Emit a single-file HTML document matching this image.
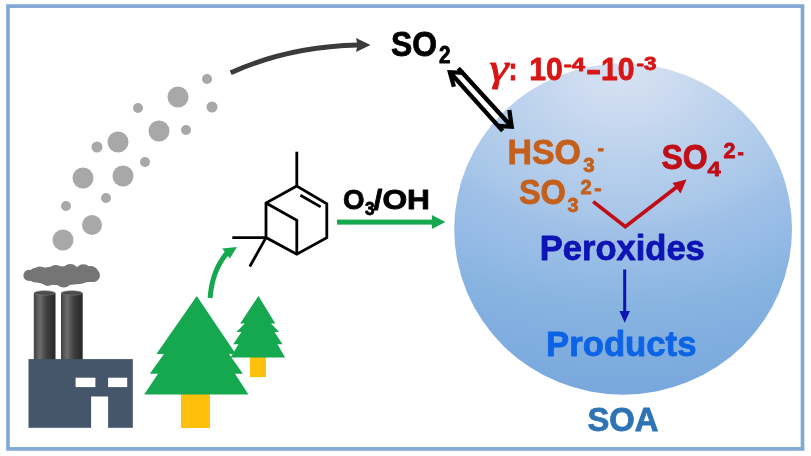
<!DOCTYPE html>
<html><head><meta charset="utf-8">
<style>
html,body{margin:0;padding:0;background:#fff;}
body{width:811px;height:456px;overflow:hidden;}
svg{display:block;}
text{font-family:"Liberation Sans",sans-serif;font-weight:bold;stroke-width:0.8px;stroke-linejoin:round;}
</style></head>
<body>
<svg width="811" height="456" viewBox="0 0 811 456">
<defs>
  <radialGradient id="sph" gradientUnits="userSpaceOnUse" cx="623" cy="70" r="330" gradientTransform="translate(623 70) scale(1.35 1) translate(-623 -70)">
    <stop offset="0" stop-color="#d7e3f4"/>
    <stop offset="0.115" stop-color="#cddbf0"/>
    <stop offset="0.233" stop-color="#bed3ed"/>
    <stop offset="0.433" stop-color="#a9c7e9"/>
    <stop offset="0.497" stop-color="#9fc0e7"/>
    <stop offset="0.606" stop-color="#95bbe5"/>
    <stop offset="0.727" stop-color="#87b3e1"/>
    <stop offset="0.97" stop-color="#79a8dc"/>
  </radialGradient>
  <linearGradient id="chim" x1="0" x2="1" y1="0" y2="0">
    <stop offset="0" stop-color="#404040"/>
    <stop offset="0.28" stop-color="#6e6e6e"/>
    <stop offset="0.6" stop-color="#3e3e3e"/>
    <stop offset="1" stop-color="#262626"/>
  </linearGradient>
  <filter id="soft" x="-5%" y="-5%" width="110%" height="110%"><feGaussianBlur stdDeviation="0.6"/></filter>
</defs>
<rect width="811" height="456" fill="#fefefe"/>
<g filter="url(#soft)">
<!-- border -->
<rect x="8" y="6.1" width="794.5" height="442.8" fill="#ffffff" stroke="#84a8d4" stroke-width="3.7"/>

<!-- sphere -->
<ellipse cx="623.1" cy="229" rx="168.9" ry="165.7" fill="url(#sph)"/>

<!-- smoke dots -->
<g fill="#a8a8a8">
<circle cx="63" cy="240" r="10.5"/><circle cx="92" cy="225" r="10"/>
<circle cx="66" cy="206" r="5"/><circle cx="106" cy="198" r="5"/>
<circle cx="83" cy="178" r="10.5"/><circle cx="123" cy="176" r="10.5"/>
<circle cx="145" cy="162" r="5"/><circle cx="97" cy="147" r="5.5"/>
<circle cx="118" cy="142" r="10.5"/><circle cx="159" cy="131" r="10.5"/>
<circle cx="186" cy="130" r="5"/><circle cx="138" cy="108" r="5"/>
<circle cx="178" cy="97" r="10.5"/><circle cx="212" cy="107" r="5.5"/>
<circle cx="207" cy="79" r="5"/>
</g>

<!-- black curved arrow -->
<path d="M230.7 72.7 Q289 46.5 358 45" fill="none" stroke="#3a3a3a" stroke-width="4.9"/>
<path d="M370.5 45 L356 38 L357.5 45 L356 52 Z" fill="#3a3a3a"/>

<!-- factory -->
<rect x="33.8" y="293" width="21.7" height="67" fill="url(#chim)"/>
<rect x="61" y="293" width="21.7" height="67" fill="url(#chim)"/>
<ellipse cx="44.6" cy="293" rx="10.6" ry="2.2" fill="#4c4c4c" stroke="#7a7a7a" stroke-width="0.6"/>
<ellipse cx="71.8" cy="293" rx="10.6" ry="2.2" fill="#4c4c4c" stroke="#7a7a7a" stroke-width="0.6"/>
<rect x="28.5" y="359.1" width="104.3" height="68.7" fill="#44546a"/>
<rect x="75.6" y="377.7" width="19.8" height="9.4" fill="#fff"/>
<rect x="108.1" y="377.7" width="19.1" height="9.4" fill="#fff"/>
<rect x="91.1" y="396.5" width="17" height="32" fill="#fff"/>
<!-- smoke cloud -->
<g fill="#747474">
<ellipse cx="61.5" cy="275.8" rx="34" ry="9.5"/>
<circle cx="40" cy="274.6" r="8"/><circle cx="55.8" cy="272.9" r="8"/><circle cx="70.3" cy="272" r="8"/><circle cx="83.4" cy="272.2" r="8"/><circle cx="92.2" cy="275" r="7"/>
<circle cx="90.5" cy="274" r="8"/><circle cx="80.8" cy="275.7" r="8"/><circle cx="63.7" cy="279.6" r="8"/><circle cx="47.9" cy="277.9" r="8"/><circle cx="35.5" cy="275.3" r="7.3"/>
<circle cx="29" cy="275.4" r="5.6"/><circle cx="93.5" cy="275.4" r="6.4"/>
</g>

<!-- trees -->
<rect x="250" y="355" width="16" height="22.1" fill="#fdc10f"/>
<path d="M258.4 296 L275.3 323.4 L271 323.4 L279.2 332.1 L274.5 332.1 L282.5 344.2 L277.5 344.2 L285.1 357.4 L230.5 357.4 L238.5 344.2 L233.2 344.2 L241.5 332.1 L236.4 332.1 L244.8 323.4 L240.2 323.4 Z" fill="#14a850"/>
<rect x="181" y="392" width="29" height="36" fill="#fdc10f"/>
<path d="M196.8 295.9 L235.8 354 L229 354 L242.9 373.8 L235 373.8 L248.5 394.5 L144.2 394.5 L158 373.8 L149.8 373.8 L164 354 L156.4 354 Z" fill="#14a850"/>

<!-- green curved arrow -->
<path d="M210.1 298 Q212 270 227.5 252.5" fill="none" stroke="#14a850" stroke-width="5"/>
<path d="M236.9 247.1 L222.2 248.6 L229.9 258.5 Z" fill="#14a850"/>

<!-- molecule -->
<g fill="none" stroke="#000" stroke-width="2.8" stroke-linejoin="miter" stroke-linecap="butt">
<path d="M296.8 186 L266 203 L266 237.6 L296.8 254.2 L326.8 237.6 L326.8 203.9 Z"/>
<path d="M266 203 L296.8 220.4 L296.8 254.2"/>
<path d="M296.8 186 L296.8 151.7"/>
<path d="M300.4 195.3 L320.7 206.9"/>
<path d="M266 237.6 L232.3 237.6"/>
<path d="M266 237.6 L249.8 266.5"/>
</g>

<!-- green arrow -->
<rect x="337" y="219.6" width="96" height="5" fill="#14a850"/>
<path d="M445.4 222.1 L431.9 215.1 L431.9 229.1 Z" fill="#14a850"/>

<!-- O3/OH -->
<text x="343" y="209.2" font-size="27" fill="#000" stroke="#000" textLength="21.5" lengthAdjust="spacingAndGlyphs">O</text>
<text x="365" y="215.3" font-size="19" fill="#000" stroke="#000" textLength="9.6" lengthAdjust="spacingAndGlyphs">3</text>
<text x="373.6" y="209.2" font-size="27" fill="#000" stroke="#000" textLength="56.4" lengthAdjust="spacingAndGlyphs">/OH</text>

<!-- SO2 -->
<text x="391" y="56" font-size="35" fill="#000" stroke="#000" textLength="46" lengthAdjust="spacingAndGlyphs">SO</text>
<text x="439" y="62.8" font-size="23.5" fill="#000" stroke="#000" textLength="11.5" lengthAdjust="spacingAndGlyphs">2</text>

<!-- double arrow -->
<g fill="none" stroke="#000" stroke-width="4.3" stroke-linecap="butt" stroke-linejoin="miter">
<path d="M458.3 68.3 L511.7 126.7"/>
<path d="M509.3 110 L511.7 126.7 L497.3 126"/>
<path d="M449.9 72.2 L502.6 130.9"/>
<path d="M453.9 86.8 L449.9 72.2 L463.9 72.8"/>
</g>

<!-- gamma text -->
<g fill="#d81414" stroke="#d81414">
<text x="489.5" y="81" font-size="38" textLength="19" lengthAdjust="spacingAndGlyphs" style="font-family:'Liberation Serif',serif;font-style:italic;font-weight:normal;stroke-width:1px">γ</text>
<text x="508.5" y="80" font-size="32" textLength="9" lengthAdjust="spacingAndGlyphs">:</text>
<text x="529.2" y="80" font-size="32" textLength="33.5" lengthAdjust="spacingAndGlyphs">10</text>
<text x="563.8" y="70.8" font-size="18.5" textLength="21" lengthAdjust="spacingAndGlyphs">-4</text>
<text x="586" y="80" font-size="32" textLength="15.3" lengthAdjust="spacingAndGlyphs">-</text>
<text x="601" y="80" font-size="32" textLength="33.5" lengthAdjust="spacingAndGlyphs">10</text>
<text x="636.5" y="69.5" font-size="18.5" textLength="20" lengthAdjust="spacingAndGlyphs">-3</text>
</g>

<!-- HSO3- -->
<g fill="#c55f1c" stroke="#c55f1c">
<text x="507.5" y="164.2" font-size="34.5" textLength="73.5" lengthAdjust="spacingAndGlyphs">HSO</text>
<text x="583.2" y="172.4" font-size="20.5" textLength="11.4" lengthAdjust="spacingAndGlyphs">3</text>
<text x="597.6" y="155" font-size="20.5" textLength="6.5" lengthAdjust="spacingAndGlyphs">-</text>
<text x="518.9" y="204" font-size="34.5" textLength="47" lengthAdjust="spacingAndGlyphs">SO</text>
<text x="567.4" y="211.8" font-size="20.5" textLength="11" lengthAdjust="spacingAndGlyphs">3</text>
<text x="580.4" y="194.1" font-size="19.5" textLength="11.2" lengthAdjust="spacingAndGlyphs">2</text>
<text x="594.2" y="194.5" font-size="20.5" textLength="7.3" lengthAdjust="spacingAndGlyphs">-</text>
</g>

<!-- SO4 2- -->
<g fill="#c00a14" stroke="#c00a14">
<text x="661.4" y="169.4" font-size="35" textLength="46.3" lengthAdjust="spacingAndGlyphs">SO</text>
<text x="707.6" y="175.8" font-size="21" textLength="13.2" lengthAdjust="spacingAndGlyphs">4</text>
<text x="723.4" y="158.2" font-size="22" textLength="11.9" lengthAdjust="spacingAndGlyphs">2</text>
<text x="737.4" y="158.5" font-size="21" textLength="6.3" lengthAdjust="spacingAndGlyphs">-</text>
</g>
<!-- V arrow -->
<path d="M593.2 201.6 L625.3 226.6 L678 186" fill="none" stroke="#c00a14" stroke-width="3.7" stroke-linejoin="miter"/>
<path d="M686.5 179.5 L672.5 183 L680.5 193.4 Z" fill="#c00a14"/>

<!-- Peroxides -->
<text x="539.8" y="259.6" font-size="34.5" fill="#0b12b4" stroke="#0b12b4" textLength="165" lengthAdjust="spacingAndGlyphs">Peroxides</text>
<rect x="623.2" y="269.5" width="3" height="43" fill="#0b12b4"/>
<path d="M624.7 322.8 L619.5 311 L629.9 311 Z" fill="#0b12b4"/>
<text x="546" y="356.2" font-size="34.5" fill="#0c64e6" stroke="#0c64e6" textLength="150.5" lengthAdjust="spacingAndGlyphs">Products</text>
<text x="587.5" y="431.2" font-size="33.5" fill="#2e73b4" stroke="#2e73b4" textLength="71" lengthAdjust="spacingAndGlyphs">SOA</text>
</g>
</svg>
</body></html>
